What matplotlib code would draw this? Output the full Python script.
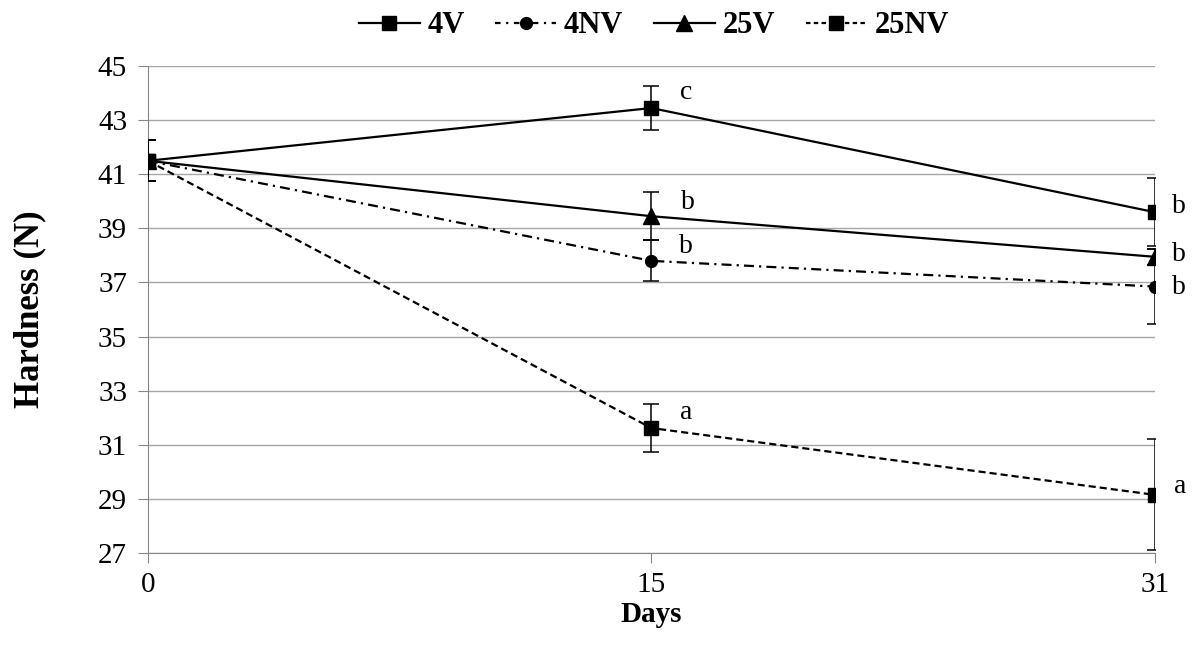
import matplotlib
matplotlib.use("Agg")
import matplotlib.pyplot as plt
from matplotlib.lines import Line2D

plt.rcParams['font.family'] = ['Liberation Serif', 'DejaVu Serif']

days = ["0", "15", "31"]
series_names = ["4V", "4NV", "25V", "25NV"]
v4 = [41.5, 43.45, 39.6]
v4_err = [0.75, 0.82, 1.25]
nv4 = [41.5, 37.8, 36.85]
nv4_err = [0.75, 0.76, 1.4]
v25 = [41.5, 39.45, 37.95]
v25_err = [0.75, 0.88, 0.3]
nv25 = [41.5, 31.62, 29.15]
nv25_err = [0.75, 0.87, 2.05]
letters_4v = ["", "c", "b"]
letters_4nv = ["", "b", "b"]
letters_25v = ["", "b", "b"]
letters_25nv = ["", "a", "a"]

fig = plt.figure(figsize=(11.93, 6.48), dpi=100)
ax = fig.add_axes([0.124, 0.1466, 0.844, 0.7514])

x = list(range(len(days)))
dashdot = (0, (4.5, 2.3, 1, 2.3))
dashed = (0, (3.2, 1.8))
styles = [
    (v4, v4_err, '-', 's', 10, letters_4v, [(0, 0), (25, 11), (17, 4)]),
    (nv4, nv4_err, dashdot, 'o', 8.5, letters_4nv, [(0, 0), (25, 10), (17, -1)]),
    (v25, v25_err, '-', '^', 11, letters_25v, [(0, 0), (26, 10), (17, 2)]),
    (nv25, nv25_err, dashed, 's', 10, letters_25nv, [(0, 0), (25, 11), (18, 6)]),
]
for (vals, errs, ls, mk, ms, lets, offs), name in zip(styles, series_names):
    ax.errorbar(x, vals, yerr=errs, color='black', linestyle=ls, linewidth=1.6,
                marker=mk, markersize=ms, elinewidth=1.1, capsize=6, capthick=1.1,
                label=name, zorder=3)
    for xi, v, lt, off in zip(x, vals, lets, offs):
        if lt:
            ax.annotate(lt, (xi, v), xytext=off, textcoords='offset points',
                        fontsize=20, ha='center', va='center')

ax.set_xlim(0, 2)
ax.set_ylim(27, 45)
ax.set_yticks(range(27, 46, 2))
ax.set_xticks(x)
ax.set_xticklabels(days)
ax.yaxis.grid(True, color='#a6a6a6', linewidth=1.0)
ax.set_axisbelow(True)
for s in ['top', 'right']:
    ax.spines[s].set_visible(False)
for s in ['left', 'bottom']:
    ax.spines[s].set_color('#868686')
ax.tick_params(axis='y', direction='out', length=7, color='#868686', labelsize=21, pad=8)
ax.tick_params(axis='x', direction='out', length=7, color='#868686', labelsize=21, pad=7)

ax.set_ylabel("Hardness (N)", fontsize=25, fontweight='bold')
ax.yaxis.set_label_coords(-0.101, 0.5)
ax.set_xlabel("Days", fontsize=21, fontweight='bold', labelpad=2)

leg_handles = [
    Line2D([], [], color='black', linestyle='-', linewidth=1.6, marker='s', markersize=10),
    Line2D([], [], color='black', linestyle=(0, (2.5, 2.5, 1, 2.5)), linewidth=1.6, marker='o', markersize=8.5),
    Line2D([], [], color='black', linestyle='-', linewidth=1.6, marker='^', markersize=11),
    Line2D([], [], color='black', linestyle=(0, (2, 1.5)), linewidth=1.6, marker='s', markersize=10),
]
fig.legend(leg_handles, series_names, loc='upper center', bbox_to_anchor=(0.548, 1.025),
           ncol=4, frameon=False, prop={'size': 22, 'weight': 'bold'},
           handlelength=2.0, columnspacing=1.0, handletextpad=0.25)

fig.savefig("out.png", dpi=100)
